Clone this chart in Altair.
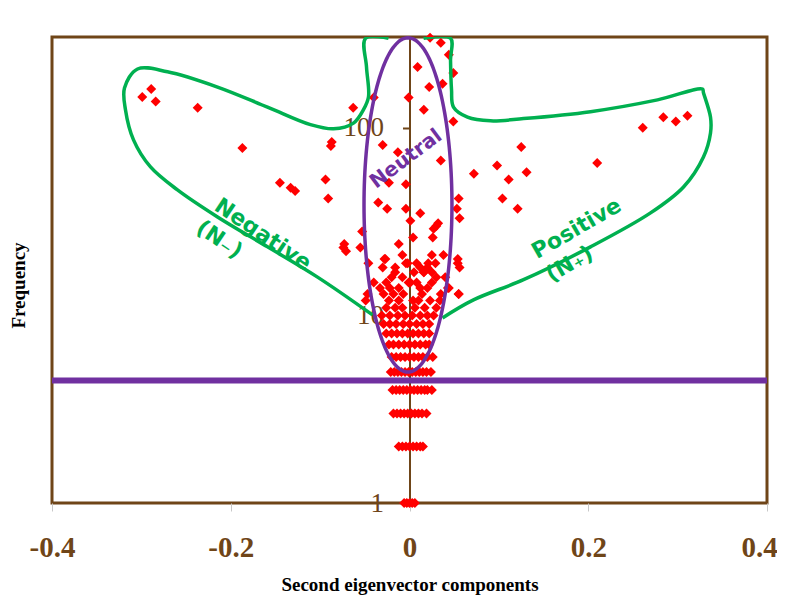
import altair as alt
import pandas as pd
import numpy as np

BROWN = "#6F4518"
GREEN = "#00B050"
PURPLE = "#7030A0"
RED = "#FF0000"

# ---- scattered nodes: second eigenvector component and frequency ----
outer_x = [-0.299, -0.289, -0.284, -0.237, -0.187, -0.145, -0.133, -0.128, -0.094, -0.091,
           -0.087, -0.088, -0.063, -0.040, -0.030, -0.013, -0.001, 0.009, -0.074, -0.073,
           -0.071, -0.055, -0.053, -0.027, -0.035, -0.025, -0.004, -0.004, 0.001, -0.012,
           -0.016, 0.004, -0.023, -0.046,
           0.023, 0.035, 0.044, 0.049, 0.022, 0.037, 0.016, 0.049, 0.035, 0.125,
           0.072, 0.098, 0.111, 0.131, 0.104, 0.121, 0.210, 0.261, 0.284, 0.298,
           0.311, 0.055, 0.053, 0.056, 0.012, 0.030, 0.032, 0.027, 0.026, 0.038,
           0.054, 0.056, 0.021, 0.029, 0.020, 0.044, 0.055, 0.016, -0.002, 0.001,
           0.008, -0.004, -0.028, 0.054]
outer_f = [146, 161, 138, 128, 78, 51, 48, 46, 53, 42,
           84, 80, 128, 145, 81, 74, 145, 211, 23, 24,
           22, 23, 28, 20, 40, 37, 50, 37, 32, 24,
           18, 26, 51, 19,
           302, 284, 245, 196, 165, 172, 125, 108, 67, 79,
           57, 63, 53, 58, 42, 37, 65, 100, 114, 108,
           116, 42, 37, 33, 35, 30, 31, 29, 26, 21,
           20, 18, 19, 19, 18, 14, 13, 17, 19, 15,
           19, 19, 20, 19]

# dense core near zero: frequency level -> components
core = {
    1: [-0.006, -0.003, 0.0, 0.003, 0.006],
    2: [-0.012, -0.008, -0.004, 0.0, 0.004, 0.008, 0.012, 0.015],
    3: [-0.018, -0.014, -0.010, -0.006, -0.002, 0.002, 0.006, 0.010, 0.014, 0.019],
    4: [-0.019, -0.015, -0.011, -0.007, -0.003, 0.001, 0.005, 0.009, 0.013, 0.017, 0.020, 0.025],
    5: [-0.021, -0.017, -0.013, -0.009, -0.005, -0.001, 0.003, 0.007, 0.011, 0.015, 0.019, 0.024],
    6: [-0.020, -0.015, -0.010, -0.005, 0.0, 0.005, 0.010, 0.015, 0.020, 0.026],
    7: [-0.023, -0.018, -0.012, -0.006, 0.0, 0.006, 0.012, 0.018, 0.022],
    8: [-0.026, -0.020, -0.014, -0.008, -0.002, 0.004, 0.010, 0.016, 0.022],
    9: [-0.029, -0.022, -0.015, -0.007, 0.0, 0.008, 0.015, 0.022],
    10: [-0.031, -0.022, -0.013, -0.005, 0.003, 0.012, 0.020, 0.027],
    11: [-0.026, -0.016, -0.008, 0.006, 0.017, 0.030],
    12: [-0.049, -0.023, -0.012, 0.004, 0.010, 0.023, 0.034],
    13: [-0.047, -0.029, -0.018, -0.007, 0.014, 0.035, 0.055],
    14: [-0.033, -0.022, -0.012, 0.012, 0.020, 0.043],
    15: [-0.040, -0.026, -0.001, 0.008, 0.025],
    16: [-0.020, -0.008, 0.030, 0.040],
    17: [-0.016, 0.005, 0.016, 0.025],
    18: [-0.030, 0.012],
    21: [-0.008, 0.025],
}

# ---- annotation outlines (data units) ----
neg_x = [-0.0235, -0.0492, -0.0481, -0.0459, -0.0515, -0.0627, -0.0850, -0.1108, -0.1589,
         -0.2148, -0.2708, -0.3043, -0.3189, -0.3178, -0.3088, -0.2898, -0.2596, -0.2148,
         -0.1589, -0.1029, -0.0414]
neg_f = [300, 300, 211, 146, 125, 106, 98.8, 104, 129,
         165, 199, 206, 163, 125, 86.3, 61.9, 46.7, 33.5,
         23.2, 16.0, 10.06]
pos_x = [0.0157, 0.0459, 0.0459, 0.0470, 0.0492, 0.0649, 0.0906, 0.1276, 0.2025, 0.2775,
         0.3278, 0.3289, 0.3368, 0.3368, 0.3289, 0.3066, 0.2697, 0.2025, 0.1276, 0.0716,
         0.0369]
pos_f = [300, 300, 230, 160, 129, 114, 109, 112, 122, 141,
         161, 154, 114, 94, 70, 48.4, 35.2, 23.2, 15.5, 12.1,
         9.7]

ell_cx, ell_a = -0.0017, 0.0492       # centre and half-width (component)
ell_cl, ell_b = 1.589, 0.891          # centre and half-height (log10 frequency)
threshold = 4.5

lab_text = ["Negative", "(N\u208b)", "Positive", "(N\u208a)", "Neutral"]
lab_x = [-0.1639, -0.2126, 0.1869, 0.1790, -0.0039]
lab_f = [27.0, 25.4, 29.1, 18.8, 68.3]
lab_angle = [34, 34, 330, 330, 323]
lab_size = [22, 22, 22, 22, 20]
lab_color = [GREEN, GREEN, GREEN, GREEN, PURPLE]

# ---- tables ----
px, pf = list(outer_x), list(outer_f)
for lvl, xs in core.items():
    px += xs
    pf += [lvl] * len(xs)
pts = pd.DataFrame({"x": px, "f": pf})

shape_rows = []
for g, xs, fs in (("neg", neg_x, neg_f), ("pos", pos_x, pos_f)):
    for i, (a, b) in enumerate(zip(xs, fs)):
        shape_rows.append({"g": g, "i": i, "x": a, "f": b})
shapes = pd.DataFrame(shape_rows)

t = np.linspace(0, 2 * np.pi, 161)
ell = pd.DataFrame({"i": np.arange(len(t)),
                    "x": ell_cx + ell_a * np.cos(t),
                    "f": 10 ** (ell_cl + ell_b * np.sin(t))})

rule_df = pd.DataFrame({"f": [threshold]})

xscale = alt.Scale(domain=[-0.4, 0.4], nice=False, zero=False)
yscale = alt.Scale(type="log", domain=[1, 305], nice=False)

xaxis = alt.Axis(values=[-0.4, -0.2, 0, 0.2, 0.4], labelExpr="datum.value + ''",
                 grid=False, domain=False, tickColor="#C8C8C8", tickSize=8,
                 labelFlush=False, labelOverlap=False,
                 labelOffset={"condition": {"test": "datum.value > 0.3", "value": -8},
                              "value": 0},
                 labelFont="Liberation Serif", labelFontWeight="bold", labelFontSize=29,
                 labelColor=BROWN, labelPadding=22,
                 title="Second eigenvector components", titleFont="Liberation Serif",
                 titleFontSize=19, titleFontWeight="bold", titleColor="black",
                 titlePadding=13)
yaxis = alt.Axis(values=[1, 10, 100], labelExpr="datum.value + ''", offset=-357.5,
                 grid=False, domainColor=BROWN, domainWidth=2, tickColor=BROWN,
                 tickWidth=2, tickSize=7, labelFlush=False, labelOverlap=False,
                 labelFont="Liberation Serif", labelFontSize=27, labelColor=BROWN,
                 labelPadding=19,
                 title="Frequency", titleFont="Liberation Serif", titleFontSize=19,
                 titleFontWeight="bold", titleColor="black", titleX=-381, titleY=248)

X = alt.X("x:Q", scale=xscale, axis=xaxis)
Y = alt.Y("f:Q", scale=yscale, axis=yaxis)

points = alt.Chart(pts).mark_point(shape="diamond", filled=True, size=100,
                                   color=RED, opacity=1).encode(x=X, y=Y)

rule = alt.Chart(rule_df).mark_rule(color=PURPLE, strokeWidth=6).encode(y=Y)

green = alt.Chart(shapes).mark_line(color=GREEN, strokeWidth=3.5, interpolate="catmull-rom",
                                    clip=True).encode(x=X, y=Y, detail="g:N", order="i:Q")

ellipse = alt.Chart(ell).mark_line(color=PURPLE, strokeWidth=3.5).encode(
    x=X, y=Y, order="i:Q")

layers = [points, rule, green, ellipse]
for s, a, b, ang, sz, col in zip(lab_text, lab_x, lab_f, lab_angle, lab_size, lab_color):
    d = pd.DataFrame({"x": [a], "f": [b], "s": [s]})
    layers.append(alt.Chart(d).mark_text(font="DejaVu Sans", fontWeight="bold", fontSize=sz,
                                         color=col, angle=ang, align="center",
                                         baseline="middle").encode(x=X, y=Y, text="s:N"))

chart = alt.layer(*layers).properties(
    width=715, height=466,
    autosize=alt.AutoSizeParams(type="none"),
    padding={"left": 44, "top": 29, "right": 10, "bottom": 92},
    background="white",
).configure_view(stroke=BROWN, strokeWidth=3)

chart.save("out.html", embed_options={"renderer": "svg", "actions": False})
